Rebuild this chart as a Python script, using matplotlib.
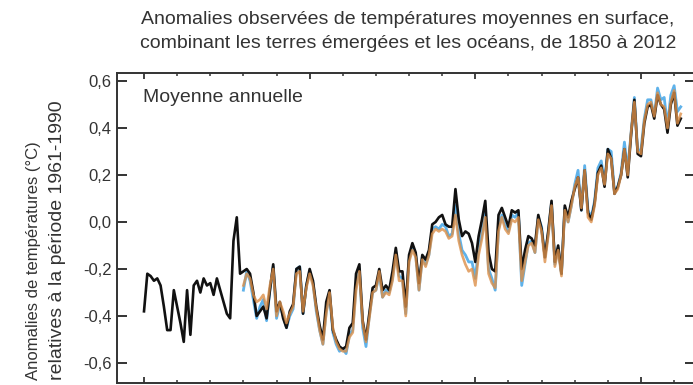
import numpy as np
import matplotlib.pyplot as plt
from matplotlib.ticker import MultipleLocator, FuncFormatter

plt.rcParams['font.family'] = ['Liberation Sans', 'DejaVu Sans']

# Annual anomalies (°C) relative to 1961-1990
years_black = np.arange(1850, 2013)
anom_black = [
    -0.38, -0.22, -0.23, -0.25, -0.24, -0.27, -0.36, -0.46, -0.46, -0.29,
    -0.36, -0.43, -0.51, -0.29, -0.48, -0.27, -0.25, -0.30, -0.24, -0.27,
    -0.26, -0.31, -0.24, -0.29, -0.34, -0.39, -0.41, -0.08, 0.02, -0.22,
    -0.21, -0.20, -0.22, -0.30, -0.40, -0.38, -0.36, -0.41, -0.29, -0.18,
    -0.38, -0.34, -0.41, -0.45, -0.38, -0.35, -0.20, -0.19, -0.39, -0.27,
    -0.20, -0.25, -0.36, -0.44, -0.50, -0.34, -0.29, -0.46, -0.50, -0.53,
    -0.54, -0.53, -0.45, -0.43, -0.22, -0.18, -0.42, -0.50, -0.39, -0.28,
    -0.27, -0.20, -0.29, -0.27, -0.29, -0.21, -0.11, -0.21, -0.21, -0.36,
    -0.14, -0.09, -0.13, -0.26, -0.14, -0.16, -0.12, -0.01, 0.00, 0.02,
    0.03, -0.01, -0.02, -0.02, 0.14, 0.01, -0.06, -0.04, -0.05, -0.09,
    -0.17, -0.06, 0.01, 0.09, -0.13, -0.20, -0.21, 0.03, 0.06, 0.02,
    -0.02, 0.05, 0.04, 0.05, -0.20, -0.12, -0.06, -0.07, -0.10, 0.03,
    -0.03, -0.15, -0.04, 0.09, -0.17, -0.10, -0.22, 0.07, 0.02, 0.09,
    0.14, 0.19, 0.05, 0.22, 0.04, 0.01, 0.08, 0.21, 0.24, 0.15,
    0.31, 0.27, 0.12, 0.15, 0.20, 0.31, 0.19, 0.37, 0.52, 0.29,
    0.28, 0.42, 0.49, 0.50, 0.44, 0.54, 0.50, 0.48, 0.38, 0.50,
    0.55, 0.41, 0.44,
]

years_other = np.arange(1880, 2013)
anom_orange = [
    -0.27, -0.22, -0.24, -0.31, -0.34, -0.33, -0.31, -0.37, -0.27, -0.20,
    -0.40, -0.34, -0.38, -0.43, -0.39, -0.36, -0.22, -0.21, -0.38, -0.28,
    -0.22, -0.27, -0.37, -0.46, -0.52, -0.39, -0.30, -0.45, -0.51, -0.54,
    -0.55, -0.55, -0.49, -0.47, -0.29, -0.21, -0.43, -0.51, -0.41, -0.30,
    -0.29, -0.21, -0.32, -0.30, -0.31, -0.25, -0.14, -0.25, -0.25, -0.40,
    -0.17, -0.12, -0.15, -0.29, -0.16, -0.19, -0.14, -0.05, -0.03, -0.04,
    -0.03, -0.04, -0.07, -0.06, 0.03, -0.08, -0.14, -0.18, -0.21, -0.20,
    -0.27, -0.14, -0.07, 0.02, -0.22, -0.26, -0.28, -0.04, 0.02, -0.03,
    -0.05, 0.01, 0.00, 0.02, -0.25, -0.17, -0.10, -0.09, -0.13, 0.01,
    -0.04, -0.17, -0.06, 0.07, -0.19, -0.12, -0.23, 0.05, 0.00, 0.07,
    0.15, 0.19, 0.06, 0.22, 0.02, 0.00, 0.07, 0.20, 0.23, 0.16,
    0.29, 0.27, 0.12, 0.14, 0.20, 0.31, 0.20, 0.38, 0.51, 0.30,
    0.29, 0.43, 0.50, 0.51, 0.45, 0.55, 0.50, 0.49, 0.40, 0.51,
    0.56, 0.42, 0.46,
]
anom_blue = [
    -0.29, -0.21, -0.25, -0.33, -0.41, -0.36, -0.33, -0.42, -0.29, -0.19,
    -0.41, -0.35, -0.40, -0.45, -0.40, -0.37, -0.20, -0.19, -0.39, -0.27,
    -0.21, -0.26, -0.38, -0.46, -0.52, -0.38, -0.31, -0.47, -0.52, -0.55,
    -0.54, -0.56, -0.48, -0.46, -0.27, -0.20, -0.45, -0.53, -0.40, -0.30,
    -0.29, -0.22, -0.32, -0.29, -0.30, -0.24, -0.13, -0.23, -0.24, -0.39,
    -0.16, -0.10, -0.14, -0.29, -0.15, -0.18, -0.14, -0.03, -0.02, -0.03,
    -0.01, -0.02, -0.06, -0.05, 0.07, -0.05, -0.12, -0.14, -0.17, -0.17,
    -0.24, -0.11, -0.05, 0.04, -0.20, -0.24, -0.29, -0.03, 0.03, -0.01,
    -0.04, 0.03, 0.02, 0.04, -0.27, -0.18, -0.09, -0.08, -0.13, 0.02,
    -0.02, -0.15, -0.05, 0.08, -0.18, -0.11, -0.22, 0.06, 0.00, 0.07,
    0.16, 0.22, 0.05, 0.24, 0.05, 0.02, 0.09, 0.23, 0.26, 0.17,
    0.31, 0.30, 0.13, 0.15, 0.21, 0.34, 0.22, 0.38, 0.53, 0.30,
    0.31, 0.44, 0.52, 0.52, 0.45, 0.57, 0.52, 0.53, 0.41, 0.54,
    0.58, 0.47, 0.49,
]

ytick_vals = [-0.6, -0.4, -0.2, 0.0, 0.2, 0.4, 0.6]

text_col = '#333333'
fig = plt.figure(figsize=(6.93, 3.85), dpi=100)
ax = fig.add_axes([117 / 693, 2 / 385, 578 / 693, 310 / 385])

ax.plot(years_other, anom_blue, color='#5fb2ea', lw=2.0, zorder=2)
ax.plot(years_black, anom_black, color='#111111', lw=1.9, zorder=3)
ax.plot(years_other, anom_orange, color='#dc8f48', lw=1.9, alpha=0.8, zorder=4)

ax.set_xlim(1841.85, 2016.3)
ax.set_ylim(-0.685, 0.634)

ax.set_yticks(ytick_vals)
ax.yaxis.set_major_formatter(FuncFormatter(lambda v, p: ('%.1f' % v).replace('.', ',')))
ax.xaxis.set_major_locator(MultipleLocator(50))
ax.xaxis.set_minor_locator(MultipleLocator(10))

ax.tick_params(axis='y', which='both', direction='in', right=True, length=7,
               width=1.4, color=text_col, labelsize=12, labelcolor=text_col, pad=4)
ax.tick_params(axis='x', which='major', direction='in', top=True, length=4,
               width=1.3, color=text_col, labelbottom=False)
ax.tick_params(axis='x', which='minor', direction='in', top=True, length=2.5,
               width=1.1, color=text_col)
for s in ax.spines.values():
    s.set_linewidth(1.4)
    s.set_color(text_col)

fig.text(143 / 693, 1 - 98 / 385, 'Moyenne annuelle', fontsize=14,
         color=text_col, ha='left', va='center')

# titre sur deux lignes
fig.text(408 / 693, 1 - 20 / 385,
         'Anomalies observées de températures moyennes en surface,',
         ha='center', va='center', fontsize=14, color=text_col)
fig.text(408 / 693, 1 - 43 / 385,
         'combinant les terres émergées et les océans, de 1850 à 2012',
         ha='center', va='center', fontsize=14, color=text_col)

# axe y : deux lignes
fig.text(34 / 693, 5 / 385, 'Anomalies de températures (°C)', rotation=90,
         ha='center', va='bottom', fontsize=12, color=text_col)
fig.text(57 / 693, 5 / 385, 'relatives à la période 1961-1990', rotation=90,
         ha='center', va='bottom', fontsize=14, color=text_col)

fig.savefig('out.png', dpi=100)
